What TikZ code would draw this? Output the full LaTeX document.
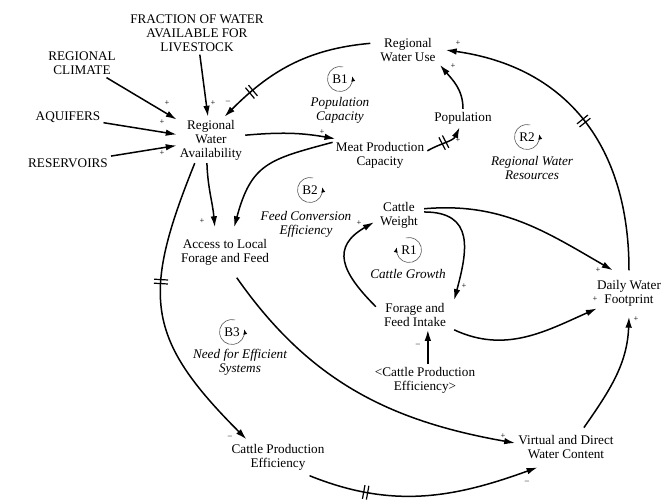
\documentclass[tikz,border=0pt]{standalone}
\usepackage{fontspec}
\setmainfont{Liberation Serif}
\usetikzlibrary{arrows.meta,decorations.markings}

\tikzset{
  var/.style={align=center, inner sep=3pt, font=\fontsize{13.2}{14}\selectfont},
  loopname/.style={align=center, inner sep=1pt, font=\fontsize{13.2}{14}\selectfont\itshape},
  loopid/.style={inner sep=0pt, font=\fontsize{13.2}{14}\selectfont},
  loopsym/.style={draw=black!65, line width=0.6pt, -{Latex[length=5pt,width=4pt,black]}},
  pol/.style={inner sep=0pt, font=\fontsize{8.5}{8.5}\selectfont},
  link/.style={-{Latex[length=11pt,width=6.5pt]}, line width=1.5pt},
  delaymark/.style={postaction={decorate,decoration={markings,
    mark=at position #1 with {\draw[-,line width=1.2pt] (-2pt,-7pt) -- (-2pt,7pt) (2pt,-7pt) -- (2pt,7pt);}}}}
}

\begin{document}
\begin{tikzpicture}[x=1pt,y=1pt]
\useasboundingbox (0,0) rectangle (662,500);

% variables
\node[var] (frac) at (197,467) {FRACTION OF WATER\\AVAILABLE FOR\\LIVESTOCK};
\node[var] (clim) at (82,437) {REGIONAL\\CLIMATE};
\node[var] (aqui) at (68,383) {AQUIFERS};
\node[var] (resv) at (68,337) {RESERVOIRS};
\node[var] (rwa) at (211,360) {Regional\\Water\\Availability};
\node[var, inner xsep=10pt] (rwu) at (408,450) {Regional\\Water Use};
\node[var] (pop) at (463,382) {Population};
\node[var] (mpc) at (380,345) {Meat Production\\Capacity};
\node[var, inner ysep=12pt] (alf) at (225,247.5) {Access to Local\\Forage and Feed};
\node[var, inner xsep=6pt] (cw) at (399,284.5) {Cattle\\Weight};
\node[var, inner xsep=8pt] (ffi) at (415,185) {Forage and\\Feed Intake};
\node[var] (cpeg) at (425,119.5) {<Cattle Production\\Efficiency>};
\node[var, inner xsep=0pt, inner ysep=10pt] (dwf) at (629,206.5) {Daily Water\\Footprint};
\node[var, inner ysep=8pt] (vdw) at (566,52.5) {Virtual and Direct\\Water Content};
\node[var, inner ysep=5pt] (cpe) at (278,42.5) {Cattle Production\\Efficiency};

% loops
\node[loopname] (nb1) at (340,390) {Population\\Capacity};
\node[loopname] (nr2) at (532,331.5) {Regional Water\\Resources};
\node[loopname] (nb2) at (306,276) {Feed Conversion\\Efficiency};
\node[loopname] (nr1) at (408,226) {Cattle Growth};
\node[loopname] (nb3) at (240,138) {Need for Efficient\\Systems};

\foreach \n/\x/\y in {B1/340/421, R2/527/363, B2/310/310, B3/232/168} {
  \node[loopid] (loop\n) at (\x,\y) {\n};
  \draw[loopsym] (loop\n.center) ++(75:12.5pt) arc[start angle=75, end angle=372, radius=12.5pt];
}
\node[loopid] (loopR1) at (409,250) {R1};
\draw[loopsym] (loopR1.center) ++(105:12.5pt) arc[start angle=105, end angle=-192, radius=12.5pt];

% links
\draw[link] (clim) -- (rwa);
\draw[link] (aqui) -- (rwa);
\draw[link] (resv) -- (rwa);
\draw[link] (frac) -- (rwa);
\draw[link, delaymark=0.78] (rwu.170) to[out=185,in=45] (rwa.60);
\draw[link] (rwa.8) to[out=5,in=170] (mpc.160);
\draw[link, delaymark=0.45] (mpc.5) to[out=30,in=245] (pop.250);
\draw[link] (pop.north) to[out=90,in=-50] (rwu.-25);
\draw[link, delaymark=0.5] (dwf.north) to[out=90,in=-8,looseness=1.1] (rwu.east);
\draw[link] (rwa.-100) to[out=-88,in=95] (alf.112);
\draw[link] (mpc.165) to[out=195,in=75,looseness=1.3] (alf.70);
\draw[link, delaymark=0.4] (rwa.-125) to[out=-112,in=135,looseness=1.3] (cpe.150);
\draw[link] (alf.-65) to[out=-55,in=170] (vdw.175);
\draw[link] (cw.8) to[out=0,in=75,looseness=1.4] (ffi.north east);
\draw[link] (ffi.168) to[out=135,in=210,looseness=1.5] (cw.195);
\draw[link] (cw.15) to[out=5,in=150] (dwf.125);
\draw[link] (ffi.south east) to[out=-25,in=204] (dwf.205);
\draw[link] (cpeg.80) -- (cpeg.80 |- ffi.south);
\draw[link] (vdw.48) to[out=55,in=-92] (dwf.south);
\draw[link, delaymark=0.25] (cpe.-30) to[out=-22,in=200] (vdw.215);

% polarities
\foreach \x/\y/\s [count=\i] in {167/397/+, 162/378/+, 162/347/+, 213/397/+, 228/398/--,
    322/368/+, 458/360/+, 453/434/+, 458/457/+, 202/279/+, 236/279/--, 230/63/--,
    503/64/+, 464/214/+, 359/277/+, 598/230/+, 595/201/+, 418/155/--, 636/181/+, 527/18/--}
  \node[pol] (pol\i) at (\x,\y) {\s};

\end{tikzpicture}
\end{document}
